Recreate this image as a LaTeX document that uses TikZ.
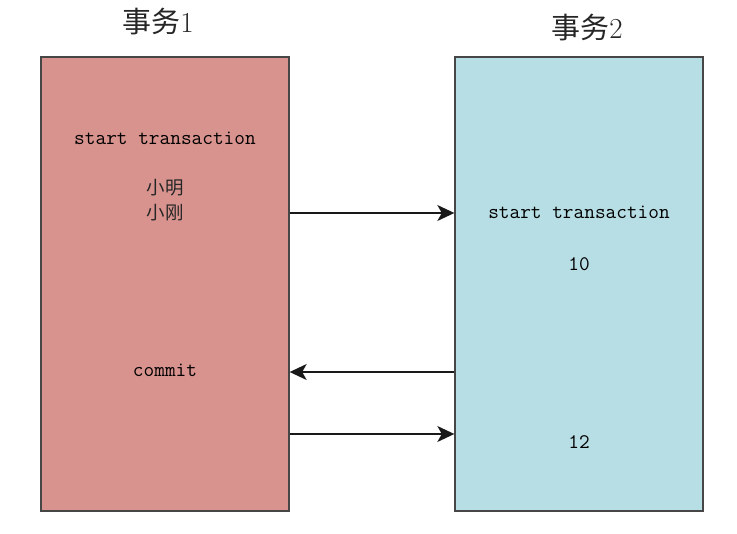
\documentclass[tikz,border=0pt]{standalone}
\usepackage{fontspec}
\newfontfamily\cjk{Noto Sans CJK SC}
\usetikzlibrary{positioning,arrows.meta}
\definecolor{txred}{RGB}{216,147,142}
\definecolor{txblue}{RGB}{183,222,228}
\definecolor{edgegray}{RGB}{70,70,70}
\tikzset{
  >=Stealth,
}

\begin{document}
\begin{tikzpicture}[x=0.02cm, y=-0.02cm,
  txbox/.style={draw=edgegray, line width=0.8pt, minimum width=4.96cm, minimum height=9.08cm, inner sep=0pt},
  txtitle/.style={font=\fontsize{16.5}{18}\selectfont, text=black!85},
  stmt/.style={font=\ttfamily\fontsize{11.8}{13}\selectfont, text=black},
  person/.style={font=\cjk\fontsize{10.5}{12}\selectfont, text=black!85},
  arr/.style={-{Stealth[length=3.4mm, width=3.2mm, inset=0.9mm]}, line width=0.8pt, black!90}
]
  \useasboundingbox (0,0) rectangle (737,534);
  % the two transactions
  \node[txbox, fill=txred] (tx1) at (165,284) {};
  \node[txbox, fill=txblue] (tx2) at (579,284) {};
  \node[txtitle] (t1) at (158,22) {{\cjk 事务}1};
  \node[txtitle] (t2) at (587,28) {{\cjk 事务}2};
  % transaction 1
  \node[stmt] (start1) at (165,138) {start transaction};
  \node[person] (ming) at (165,188) {小明};
  \node[person] (gang) at (165,213) {小刚};
  \node[stmt] (commit) at (165,370) {commit};
  % transaction 2
  \node[stmt] (start2) at (579,212) {start transaction};
  \node[stmt] (ten) at (579,264) {10};
  \node[stmt] (twelve) at (579,442) {12};
  \coordinate (second) at (372,372);
  \coordinate (third) at (372,434);
  % messages
  \draw[arr] (gang -| tx1.east) -- (gang -| tx2.west);
  \draw[arr] (second -| tx2.west) -- (second -| tx1.east);
  \draw[arr] (third -| tx1.east) -- (third -| tx2.west);
\end{tikzpicture}
\end{document}
